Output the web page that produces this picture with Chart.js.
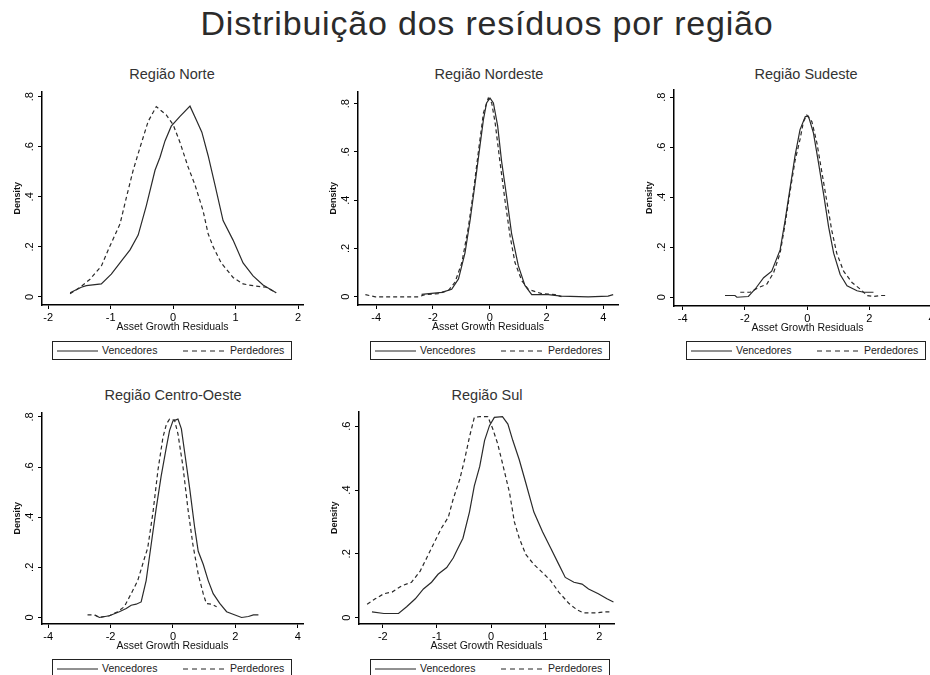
<!DOCTYPE html>
<html>
<head>
<meta charset="utf-8">
<script src="https://cdn.jsdelivr.net/npm/chart.js@4/dist/chart.umd.min.js"></script>
<style>
html,body{margin:0;padding:0;background:#fff;width:930px;height:675px;overflow:hidden;position:relative;font-family:"Liberation Sans",Arial,sans-serif;}
canvas{position:absolute;}
.maintitle{position:absolute;top:6px;left:487px;transform:translateX(-50%);white-space:nowrap;font-size:34px;line-height:34px;letter-spacing:0.8px;color:#2b2b2b;}
.sub{position:absolute;transform:translateX(-50%);white-space:nowrap;font-size:14.5px;line-height:14.5px;color:#333;}
.legend{position:absolute;width:240px;height:19px;box-sizing:border-box;border:1.5px solid #222;background:#fff;}
.legend svg{position:absolute;top:8px;left:0;}
.legend span{position:absolute;top:2px;font-size:10.5px;line-height:12px;color:#222;white-space:nowrap;}
</style>
</head>
<body>
<script>
// ---------------- DATA ----------------
const mainTitle = 'Distribuição dos resíduos por região';
const panelTitles = ['Região Norte', 'Região Nordeste', 'Região Sudeste', 'Região Centro-Oeste', 'Região Sul'];
const seriesNames = ['Vencedores', 'Perdedores'];
const xAxisTitle = 'Asset Growth Residuals';
const yAxisTitle = 'Density';

const xTicksNarrow = [-2, -1, 0, 1, 2];
const xTicksWide = [-4, -2, 0, 2, 4];
const yTicksTall = [0, 0.2, 0.4, 0.6, 0.8];
const yTicksShort = [0, 0.2, 0.4, 0.6];

const norteVencedores = [[-1.65,0.017],[-1.47,0.039],[-1.39,0.045],[-1.15,0.052],[-0.99,0.091],[-0.83,0.143],[-0.69,0.188],[-0.56,0.247],[-0.51,0.292],[-0.43,0.364],[-0.29,0.506],[-0.21,0.558],[-0.13,0.623],[-0.03,0.682],[0.11,0.721],[0.27,0.762],[0.37,0.708],[0.46,0.658],[0.56,0.565],[0.67,0.448],[0.80,0.305],[0.96,0.227],[1.12,0.136],[1.28,0.084],[1.44,0.048],[1.65,0.017]];
const nortePerdedores = [[-1.65,0.013],[-1.49,0.039],[-1.33,0.071],[-1.15,0.123],[-1.04,0.188],[-0.85,0.292],[-0.75,0.396],[-0.64,0.506],[-0.53,0.597],[-0.40,0.701],[-0.27,0.760],[-0.11,0.727],[0.0,0.688],[0.11,0.617],[0.24,0.519],[0.35,0.448],[0.48,0.344],[0.56,0.253],[0.64,0.201],[0.77,0.136],[0.96,0.078],[1.12,0.052],[1.28,0.045],[1.49,0.039],[1.65,0.017]];

const nordesteVencedores = [[-2.4,0.010],[-1.69,0.018],[-1.34,0.031],[-1.10,0.074],[-0.87,0.182],[-0.69,0.317],[-0.52,0.466],[-0.34,0.628],[-0.22,0.735],[-0.11,0.803],[0.01,0.823],[0.13,0.803],[0.28,0.708],[0.42,0.560],[0.60,0.412],[0.77,0.263],[1.01,0.128],[1.24,0.047],[1.48,0.009],[2.06,0.009],[2.53,0.003],[3.47,0.0],[4.17,0.003],[4.35,0.009]];
const nordestePerdedores = [[-4.38,0.009],[-4.03,0.0],[-2.51,0.0],[-2.27,0.009],[-1.81,0.013],[-1.45,0.027],[-1.22,0.061],[-0.98,0.142],[-0.75,0.290],[-0.57,0.439],[-0.40,0.600],[-0.22,0.762],[-0.05,0.823],[0.07,0.803],[0.19,0.722],[0.36,0.560],[0.54,0.398],[0.72,0.250],[0.89,0.142],[1.13,0.067],[1.36,0.031],[1.83,0.013],[2.30,0.009],[2.53,0.0]];

const sudesteVencedores = [[-2.64,0.007],[-2.32,0.007],[-2.26,0.0],[-1.89,0.003],[-1.67,0.033],[-1.40,0.078],[-1.14,0.104],[-0.87,0.189],[-0.71,0.306],[-0.55,0.436],[-0.39,0.566],[-0.23,0.670],[-0.06,0.722],[0.04,0.724],[0.20,0.657],[0.36,0.540],[0.53,0.410],[0.69,0.280],[0.85,0.176],[1.06,0.091],[1.28,0.046],[1.60,0.026],[1.81,0.020],[2.13,0.020]];
const sudestePerdedores = [[-2.15,0.020],[-1.83,0.020],[-1.56,0.039],[-1.30,0.052],[-1.08,0.098],[-0.87,0.176],[-0.71,0.293],[-0.55,0.423],[-0.39,0.546],[-0.23,0.631],[-0.12,0.702],[-0.01,0.728],[0.15,0.702],[0.31,0.618],[0.47,0.501],[0.63,0.384],[0.79,0.267],[0.95,0.176],[1.17,0.104],[1.44,0.059],[1.70,0.033],[1.92,0.007],[2.13,0.003],[2.35,0.007],[2.56,0.007]];

const centroOesteVencedores = [[-2.5,0.010],[-2.36,0.0],[-2.04,0.007],[-1.72,0.023],[-1.50,0.036],[-1.34,0.049],[-1.18,0.053],[-1.02,0.062],[-0.86,0.147],[-0.70,0.290],[-0.54,0.433],[-0.38,0.563],[-0.21,0.680],[-0.11,0.745],[0.0,0.784],[0.16,0.791],[0.27,0.752],[0.38,0.654],[0.54,0.511],[0.70,0.355],[0.81,0.264],[0.97,0.212],[1.13,0.147],[1.29,0.095],[1.50,0.056],[1.72,0.023],[1.99,0.010],[2.20,0.0],[2.42,0.004],[2.58,0.010],[2.74,0.010]];
const centroOestePerdedores = [[-2.74,0.010],[-2.52,0.010],[-2.36,0.0],[-2.04,0.007],[-1.77,0.023],[-1.56,0.043],[-1.34,0.095],[-1.13,0.147],[-0.91,0.238],[-0.81,0.277],[-0.64,0.420],[-0.48,0.589],[-0.32,0.719],[-0.21,0.771],[-0.11,0.791],[0.05,0.787],[0.16,0.732],[0.32,0.602],[0.48,0.433],[0.64,0.290],[0.81,0.173],[0.97,0.095],[1.07,0.056],[1.24,0.053],[1.40,0.043]];

const sulVencedores = [[-2.20,0.018],[-1.98,0.013],[-1.71,0.013],[-1.56,0.034],[-1.40,0.059],[-1.25,0.090],[-1.10,0.111],[-0.98,0.136],[-0.82,0.157],[-0.70,0.187],[-0.61,0.218],[-0.52,0.249],[-0.40,0.331],[-0.31,0.413],[-0.21,0.474],[-0.12,0.556],[-0.03,0.602],[0.06,0.628],[0.21,0.630],[0.31,0.607],[0.40,0.556],[0.52,0.495],[0.64,0.423],[0.79,0.331],[0.95,0.269],[1.10,0.218],[1.25,0.167],[1.37,0.126],[1.53,0.111],[1.68,0.105],[1.80,0.090],[1.98,0.075],[2.14,0.059],[2.26,0.049]];
const sulPerdedores = [[-2.29,0.042],[-2.14,0.059],[-1.98,0.075],[-1.83,0.080],[-1.65,0.100],[-1.47,0.111],[-1.31,0.146],[-1.19,0.187],[-1.04,0.239],[-0.92,0.280],[-0.79,0.315],[-0.70,0.372],[-0.58,0.433],[-0.49,0.495],[-0.40,0.566],[-0.31,0.628],[-0.21,0.630],[-0.06,0.630],[0.03,0.592],[0.12,0.546],[0.21,0.484],[0.34,0.392],[0.43,0.300],[0.52,0.249],[0.64,0.198],[0.79,0.167],[0.95,0.141],[1.10,0.116],[1.25,0.080],[1.44,0.044],[1.59,0.024],[1.71,0.015],[1.95,0.015],[2.08,0.018],[2.23,0.018]];

// ---------------- LAYOUT / STYLE ----------------
const FONT = '"Liberation Sans", Arial, sans-serif';
const panels = [
  {title:panelTitles[0], venc:norteVencedores, perd:nortePerdedores, xt:xTicksNarrow, yt:yTicksTall,
   L:42, T:87, R:303, B:305, xMin:-2.1, xMax:2.08, yMin:-0.032, yMax:0.82, cx:172, ty:66.7, lx:52, ly:341},
  {title:panelTitles[1], venc:nordesteVencedores, perd:nordestePerdedores, xt:xTicksWide, yt:yTicksTall,
   L:358, T:87, R:618, B:305, xMin:-4.64, xMax:4.52, yMin:-0.034, yMax:0.85, cx:489, ty:66.7, lx:370, ly:341},
  {title:panelTitles[2], venc:sudesteVencedores, perd:sudestePerdedores, xt:xTicksWide, yt:yTicksTall,
   L:674, T:85, R:941, B:306, xMin:-4.28, xMax:4.3, yMin:-0.035, yMax:0.83, cx:806, ty:66.7, lx:686, ly:341},
  {title:panelTitles[3], venc:centroOesteVencedores, perd:centroOestePerdedores, xt:xTicksWide, yt:yTicksTall,
   L:42, T:408, R:303, B:624, xMin:-4.2, xMax:4.17, yMin:-0.026, yMax:0.817, cx:173, ty:387.7, lx:52, ly:659},
  {title:panelTitles[4], venc:sulVencedores, perd:sulPerdedores, xt:xTicksNarrow, yt:yTicksShort,
   L:359, T:407, R:614, B:624, xMin:-2.44, xMax:2.27, yMin:-0.02, yMax:0.646, cx:487, ty:387.7, lx:370, ly:659}
];

const mt = document.createElement('div');
mt.className = 'maintitle';
mt.textContent = mainTitle;
document.body.appendChild(mt);

function fmtY(v){ if (Math.abs(v) < 1e-9) return '0'; return (+v.toFixed(1)).toString().replace(/^0\./, '.'); }
function fmtX(v){ return (+v.toFixed(2)).toString(); }

const W_Y = 30, H_X = 28, PAD_T = 5, PAD_R = 8;

panels.forEach(function(g){
  const st = document.createElement('div');
  st.className = 'sub';
  st.style.left = g.cx + 'px';
  st.style.top = g.ty + 'px';
  st.textContent = g.title;
  document.body.appendChild(st);

  const lg = document.createElement('div');
  lg.className = 'legend';
  lg.style.left = g.lx + 'px';
  lg.style.top = g.ly + 'px';
  lg.innerHTML =
    '<svg width="240" height="3"><line x1="4" y1="1" x2="45" y2="1" stroke="#222" stroke-width="1"/>' +
    '<line x1="130" y1="1" x2="173" y2="1" stroke="#222" stroke-width="1" stroke-dasharray="5,4"/></svg>';
  const s1 = document.createElement('span'); s1.style.left = '49px'; s1.textContent = seriesNames[0];
  const s2 = document.createElement('span'); s2.style.left = '177px'; s2.textContent = seriesNames[1];
  lg.appendChild(s1); lg.appendChild(s2);
  document.body.appendChild(lg);

  const left = g.L - W_Y, top = g.T - PAD_T;
  const w = Math.round(g.R - left + PAD_R), h = Math.round(g.B - top + H_X);
  const c = document.createElement('canvas');
  c.width = w; c.height = h;
  c.style.left = left + 'px'; c.style.top = top + 'px';
  c.style.width = w + 'px'; c.style.height = h + 'px';
  document.body.appendChild(c);

  new Chart(c, {
    type: 'scatter',
    data: {
      datasets: [
        {label: seriesNames[0], data: g.venc.map(p => ({x: p[0], y: p[1]})), showLine: true,
         borderColor: '#2a2a2a', borderWidth: 1.2, pointRadius: 0, tension: 0, fill: false},
        {label: seriesNames[1], data: g.perd.map(p => ({x: p[0], y: p[1]})), showLine: true,
         borderColor: '#2a2a2a', borderWidth: 1.2, borderDash: [4, 3], pointRadius: 0, tension: 0, fill: false}
      ]
    },
    options: {
      responsive: false, animation: false, devicePixelRatio: 1,
      layout: {padding: {top: PAD_T, right: PAD_R, left: 0, bottom: 0}},
      plugins: {legend: {display: false}, tooltip: {enabled: false}, title: {display: false}},
      scales: {
        x: {
          type: 'linear', min: g.xMin, max: g.xMax,
          afterBuildTicks: s => { s.ticks = g.xt.map(v => ({value: v})); },
          afterFit: s => { s.height = H_X; },
          grid: {drawOnChartArea: false, drawTicks: true, tickLength: 4, color: '#000', lineWidth: 1},
          border: {display: true, color: '#000', width: 1.5},
          ticks: {color: '#000', font: {family: FONT, size: 11}, padding: 2, maxRotation: 0, minRotation: 0, autoSkip: false, callback: v => fmtX(v)},
          title: {display: true, text: xAxisTitle, color: '#111', font: {family: FONT, size: 10.5}, padding: 0}
        },
        y: {
          type: 'linear', min: g.yMin, max: g.yMax,
          afterBuildTicks: s => { s.ticks = g.yt.map(v => ({value: v})); },
          afterFit: s => { s.width = W_Y; },
          grid: {drawOnChartArea: false, drawTicks: true, tickLength: 4, color: '#000', lineWidth: 1},
          border: {display: true, color: '#000', width: 1.5},
          ticks: {color: '#000', font: {family: FONT, size: 11}, padding: 3, minRotation: 90, maxRotation: 90, crossAlign: 'center', autoSkip: false, callback: v => fmtY(v)},
          title: {display: true, text: yAxisTitle, color: '#111', font: {family: FONT, size: 9, weight: 'bold'}, padding: 0}
        }
      }
    }
  });
});
</script>
</body>
</html>
